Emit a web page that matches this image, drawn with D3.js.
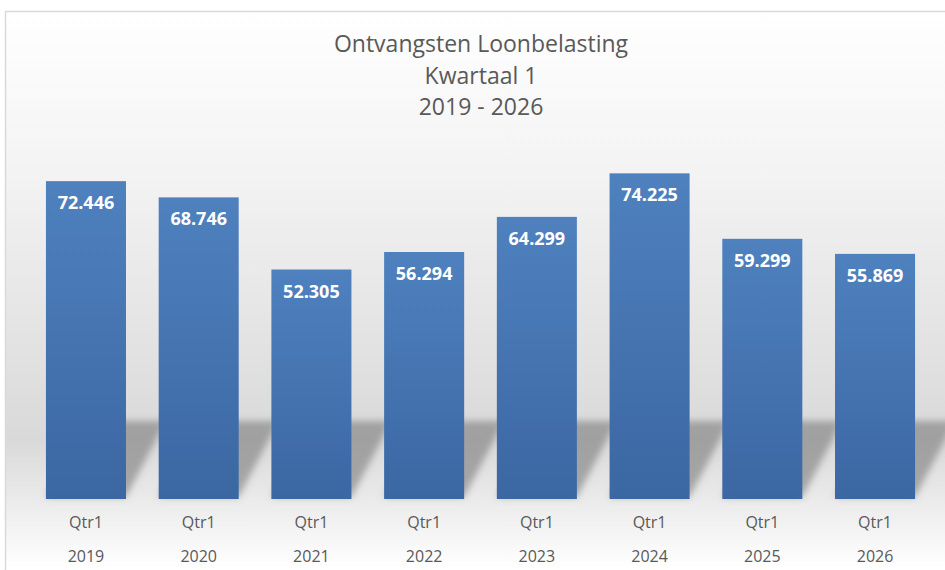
<!DOCTYPE html>
<html>
<head>
<meta charset="utf-8">
<script src="https://cdn.jsdelivr.net/npm/d3@7"></script>
<style>
  body { margin: 0; background: #fff; }
  text { font-family: "Open Sans", "Noto Sans", sans-serif; }
</style>
</head>
<body>
<div id="chart"></div>
<script>
var svgWidth = 945;
var svgHeight = 570;

// data
var years = ["2019", "2020", "2021", "2022", "2023", "2024", "2025", "2026"];
var quarters = ["Qtr1", "Qtr1", "Qtr1", "Qtr1", "Qtr1", "Qtr1", "Qtr1", "Qtr1"];
var values = [72.446, 68.746, 52.305, 56.294, 64.299, 74.225, 59.299, 55.869];
var titleLines = ["Ontvangsten Loonbelasting", "Kwartaal 1", "2019 - 2026"];

var svg = d3.select("#chart")
  .append("svg")
  .attr("width", svgWidth)
  .attr("height", svgHeight);

var defs = svg.append("defs");

// chart area background
var bg = defs.append("linearGradient")
  .attr("id", "bgGrad")
  .attr("x1", 0).attr("y1", 0).attr("x2", 0).attr("y2", 1);
bg.append("stop").attr("offset", "0%").attr("stop-color", "#ffffff");
bg.append("stop").attr("offset", "30%").attr("stop-color", "#f2f2f2");
bg.append("stop").attr("offset", "74%").attr("stop-color", "#d9d9d9");
bg.append("stop").attr("offset", "96%").attr("stop-color", "#ffffff");

var barGrad = defs.append("linearGradient")
  .attr("id", "barGrad")
  .attr("x1", 0).attr("y1", 0).attr("x2", 0).attr("y2", 1);
barGrad.append("stop").attr("offset", "0%").attr("stop-color", "#4f81bf");
barGrad.append("stop").attr("offset", "100%").attr("stop-color", "#3b67a2");

defs.append("filter")
  .attr("id", "blur")
  .attr("x", "-50%").attr("y", "-50%").attr("width", "200%").attr("height", "200%")
  .append("feGaussianBlur")
  .attr("stdDeviation", 3.5);

svg.append("rect")
  .attr("x", 5.5)
  .attr("y", 11.5)
  .attr("width", 960)
  .attr("height", 580)
  .attr("fill", "url(#bgGrad)")
  .attr("stroke", "#d9d9d9")
  .attr("stroke-width", 1.5);

// title
svg.append("g")
  .selectAll("text")
  .data(titleLines)
  .enter()
  .append("text")
  .attr("x", 481)
  .attr("y", (d, i) => 52 + i * 31.5)
  .attr("text-anchor", "middle")
  .attr("fill", "#595959")
  .style("font-size", "23px")
  .text(d => d);

// scales
var x = d3.scaleBand()
  .domain(years)
  .range([29.6, 931.4])
  .paddingInner(0.29)
  .paddingOuter(0.145);

var y = d3.scaleLinear()
  .domain([0, 80])
  .range([499, 148]);

// shadows behind the bars
svg.append("g")
  .attr("filter", "url(#blur)")
  .selectAll("polygon")
  .data(years)
  .enter()
  .append("polygon")
  .attr("points", function(d) {
    var x0 = x(d), x1 = x(d) + x.bandwidth(), b = y(0) - 2;
    return [[x0, b], [x1, b], [x1 + 40, b - 76], [x0 + 40, b - 76]].join(" ");
  })
  .attr("fill", "#7a7a7a")
  .attr("opacity", 0.6);

// bars
svg.append("g")
  .selectAll("rect")
  .data(values)
  .enter()
  .append("rect")
  .attr("x", (d, i) => x(years[i]))
  .attr("y", d => y(d))
  .attr("width", x.bandwidth())
  .attr("height", d => y(0) - y(d))
  .attr("fill", "url(#barGrad)");

// value labels
svg.append("g")
  .selectAll("text")
  .data(values)
  .enter()
  .append("text")
  .attr("x", (d, i) => x(years[i]) + x.bandwidth() / 2)
  .attr("y", d => y(d) + 28)
  .attr("text-anchor", "middle")
  .attr("fill", "#ffffff")
  .style("font-size", "18px")
  .style("font-weight", "bold")
  .text(d => d.toFixed(3));

// category labels (two levels)
var xAxis = svg.append("g")
  .attr("transform", `translate(0, ${y(0)})`)
  .call(d3.axisBottom(x).tickSize(0).tickPadding(0).tickFormat(""));
xAxis.select(".domain").remove();

var ticks = xAxis.selectAll(".tick");
ticks.append("text")
  .attr("y", 29)
  .attr("fill", "#595959")
  .attr("text-anchor", "middle")
  .style("font-size", "16px")
  .text((d, i) => quarters[i]);
ticks.append("text")
  .attr("y", 63)
  .attr("fill", "#595959")
  .attr("text-anchor", "middle")
  .style("font-size", "16px")
  .text(d => d);
</script>
</body>
</html>
